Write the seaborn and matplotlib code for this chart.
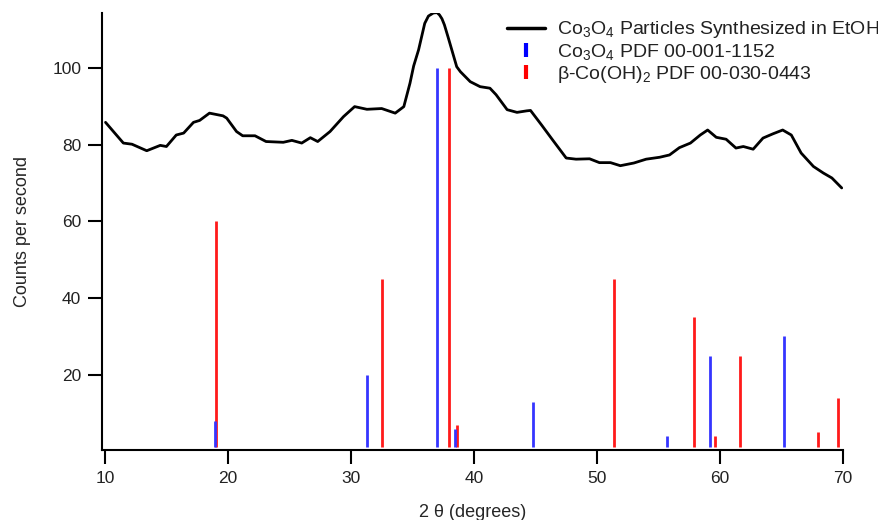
import matplotlib
matplotlib.use("Agg")
import matplotlib.pyplot as plt
import seaborn as sns
import pandas as pd
from matplotlib.lines import Line2D

# XRD pattern of Co3O4 particles (traced)
two_theta = [10.05, 10.8, 11.5, 12.2, 13.4, 14.5, 15.0, 15.8, 16.4, 17.2, 17.7, 18.5,
             19.6, 19.9, 20.7, 21.2, 22.2, 23.1, 24.5, 25.2, 26.0, 26.7, 27.3, 28.3,
             29.4, 30.3, 31.3, 32.5, 33.6, 34.3, 34.8, 35.1, 35.5, 36.0, 36.3, 36.7,
             37.0, 37.2, 37.4, 37.6, 37.9, 38.2, 38.6, 38.9, 39.7, 40.5, 41.3, 41.8,
             42.7, 43.5, 44.3, 44.6, 45.5, 46.4, 47.5, 48.3, 49.4, 50.2, 51.1, 51.9,
             53.0, 54.0, 55.1, 55.9, 56.7, 57.6, 58.4, 59.0, 59.7, 60.5, 61.3, 61.9,
             62.7, 63.5, 64.3, 65.1, 65.8, 66.6, 67.6, 68.4, 69.1, 69.9]
counts = [85.8, 83.0, 80.4, 80.1, 78.4, 79.8, 79.5, 82.5, 83.0, 85.8, 86.3, 88.2,
          87.5, 86.9, 83.4, 82.3, 82.3, 80.8, 80.6, 81.1, 80.4, 81.8, 80.8, 83.4,
          87.3, 89.9, 89.2, 89.4, 88.2, 89.9, 96.0, 100.5, 104.7, 111.6, 113.5, 114.3,
          114.4, 113.8, 112.8, 111.2, 108.0, 104.7, 100.3, 99.0, 96.4, 95.1, 94.7, 93.0,
          89.1, 88.4, 88.8, 88.9, 85.1, 81.2, 76.5, 76.2, 76.3, 75.3, 75.3, 74.5,
          75.2, 76.2, 76.7, 77.3, 79.2, 80.4, 82.5, 83.8, 81.9, 81.4, 79.1, 79.5,
          78.8, 81.7, 82.8, 83.8, 82.5, 77.8, 74.3, 72.6, 71.3, 68.7]

# Reference patterns
co3o4_pos = [18.92, 31.3, 37.0, 38.45, 44.8, 55.7, 59.2, 65.2]
co3o4_int = [8, 20, 100, 6, 13, 4, 25, 30]
coh_pos = [19.06, 32.5, 38.0, 38.65, 51.4, 57.9, 59.6, 61.6, 68.0, 69.6]
coh_int = [60, 45, 100, 7, 45, 35, 4, 25, 5, 14]

label_curve = r"Co$_3$O$_4$ Particles Synthesized in EtOH"
label_co3o4 = r"Co$_3$O$_4$ PDF 00-001-1152"
label_coh = r"β-Co(OH)$_2$ PDF 00-030-0443"

sns.set_style("ticks")
plt.rcParams['font.family'] = ['Liberation Sans', 'DejaVu Sans']
plt.rcParams['mathtext.fontset'] = 'custom'
plt.rcParams['mathtext.rm'] = 'Liberation Sans'
plt.rcParams['mathtext.it'] = 'Liberation Sans:italic'
plt.rcParams['text.color'] = '#222222'

fig = plt.figure(figsize=(8.79, 5.20), dpi=100)
ax = fig.add_axes([0.116, 0.135, 0.843, 0.84])

df = pd.DataFrame({"x": two_theta, "y": counts})
sns.lineplot(data=df, x="x", y="y", ax=ax, color="black", linewidth=2.0, legend=False)

base = 1.3
ax.vlines(coh_pos, base, coh_int, colors="#ff1a1a", linewidth=2.0)
ax.vlines(co3o4_pos, base, co3o4_int, colors="#3535ff", linewidth=2.0)

ax.set_xlim(9.76, 70)
ax.set_ylim(0.45, 114.3)
ax.set_xticks([10, 20, 30, 40, 50, 60, 70])
ax.set_yticks([20, 40, 60, 80, 100])
for s in ["top", "right"]:
    ax.spines[s].set_visible(False)
for s in ["left", "bottom"]:
    ax.spines[s].set_linewidth(1.5)
    ax.spines[s].set_color("black")
ax.tick_params(axis="both", direction="out", length=10, width=1.5, color="black",
               labelsize=12.5, labelcolor="#222222", pad=5)
ax.set_xlabel("2 θ (degrees)", fontsize=13, labelpad=13)
ax.set_ylabel("Counts per second", fontsize=13, labelpad=15)

handles = [
    Line2D([0], [0], color="black", linewidth=2.5),
    Line2D([0], [0], color="#0000ff", linestyle="none", marker="|", markersize=10, markeredgewidth=3),
    Line2D([0], [0], color="#ff0000", linestyle="none", marker="|", markersize=10, markeredgewidth=3),
]
fig.legend(handles, [label_curve, label_co3o4, label_coh], loc="upper right",
           bbox_to_anchor=(1.014, 0.985), frameon=False, fontsize=14,
           handlelength=2.0, handletextpad=0.6, labelspacing=0.08, borderaxespad=0.2)

fig.savefig("out.png", dpi=100)
